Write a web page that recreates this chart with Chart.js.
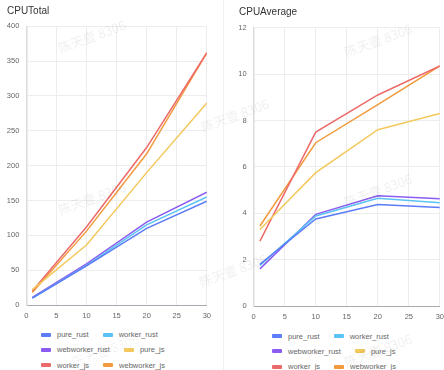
<!DOCTYPE html>
<html>
<head>
<meta charset="utf-8">
<script src="https://cdn.jsdelivr.net/npm/chart.js@4.4.1/dist/chart.umd.min.js"></script>
<style>
  html, body { margin: 0; padding: 0; background: #fff; }
  body { width: 444px; height: 370px; position: relative; overflow: hidden; font-family: "Liberation Sans", Arial, sans-serif; }
  .box { position: absolute; top: 0; }
  #leftBox { left: 0; width: 217px; height: 322px; }
  #rightBox { left: 222px; width: 228px; height: 323px; }
  .divider { position: absolute; left: 223px; top: 0; width: 1px; height: 370px; background: #f0f0f0; }
  .legend { position: absolute; display: flex; flex-wrap: wrap; width: 134px; column-gap: 14px; }
  #leftLegend { left: 41px; top: 327px; }
  #rightLegend { left: 272px; top: 328.5px; }
  .legend-item { display: flex; align-items: center; height: 15.3px; font-size: 7.5px; color: #666; white-space: nowrap; }
  .swatch { width: 10px; height: 4px; margin-right: 6px; border-radius: 1px; }
  .wm { position: absolute; font: 13px "Noto Sans CJK SC", sans-serif; color: rgba(0, 0, 0, 0.065); transform: translate(-50%, -50%) rotate(-20deg); white-space: nowrap; pointer-events: none; z-index: 5; }
</style>
</head>
<body>
<div class="box" id="leftBox"><canvas id="cpuTotal"></canvas></div>
<div class="divider"></div>
<div class="box" id="rightBox"><canvas id="cpuAverage"></canvas></div>
<div class="legend" id="leftLegend"></div>
<div class="legend" id="rightLegend"></div>
<script>
// thread counts on the x axis
const threads = [1, 10, 20, 30];
const xTicks = [0, 5, 10, 15, 20, 25, 30];

const seriesNames = ['pure_rust', 'worker_rust', 'webworker_rust', 'pure_js', 'worker_js', 'webworker_js'];
const seriesColors = ['#5b7cf6', '#5bc3f3', '#8b5cf1', '#f3c85c', '#ed6a6a', '#f29a3e'];

// CPUTotal
const totalPureRust = [10, 56, 110, 149];
const totalWorkerRust = [10, 57, 115, 155];
const totalWebworkerRust = [11, 59, 119, 162];
const totalPureJs = [22, 86, 190, 290];
const totalWorkerJs = [20, 112, 226, 362];
const totalWebworkerJs = [18, 106, 217, 362];
const totalTicks = [0, 50, 100, 150, 200, 250, 300, 350, 400];

// CPUAverage
const avgPureRust = [1.8, 3.75, 4.38, 4.25];
const avgWorkerRust = [1.75, 3.88, 4.65, 4.45];
const avgWebworkerRust = [1.6, 3.95, 4.75, 4.62];
const avgPureJs = [3.3, 5.75, 7.6, 8.3];
const avgWorkerJs = [2.8, 7.5, 9.1, 10.35];
const avgWebworkerJs = [3.45, 7.04, 8.68, 10.35];
const avgTicks = [0, 2, 4, 6, 8, 10, 12];

// watermark centres
const watermarks = [[92, 36], [378, 40], [235, 115], [92, 198], [378, 190], [233, 270], [105, 350], [378, 350]];

function makeDatasets(lists) {
  return lists.map((vals, i) => ({
    label: seriesNames[i],
    data: vals.map((v, j) => ({ x: threads[j], y: v })),
    borderColor: seriesColors[i],
    backgroundColor: seriesColors[i],
    borderWidth: 1.5,
    pointRadius: 0,
    tension: 0
  }));
}

// legend drawn as html so it can wrap into two columns like the original
const htmlLegend = {
  id: 'htmlLegend',
  afterUpdate(chart, args, opts) {
    const box = document.getElementById(opts.containerID);
    box.innerHTML = '';
    const items = chart.options.plugins.legend.labels.generateLabels(chart);
    items.forEach(item => {
      const el = document.createElement('div');
      el.className = 'legend-item';
      const sw = document.createElement('span');
      sw.className = 'swatch';
      sw.style.background = item.fillStyle;
      const txt = document.createElement('span');
      txt.textContent = item.text;
      el.appendChild(sw);
      el.appendChild(txt);
      box.appendChild(el);
    });
  }
};

function makeChart(canvasId, title, lists, yTicks, legendId, cfg) {
  return new Chart(document.getElementById(canvasId), {
    type: 'line',
    data: { datasets: makeDatasets(lists) },
    plugins: [htmlLegend],
    options: {
      responsive: true,
      maintainAspectRatio: false,
      animation: false,
      layout: { padding: { left: cfg.padLeft, right: 0, top: 0, bottom: 0 } },
      plugins: {
        legend: { display: false },
        htmlLegend: { containerID: legendId },
        tooltip: { enabled: false },
        title: {
          display: true,
          text: title,
          align: 'start',
          color: '#333',
          font: { family: 'Liberation Sans', size: 10, weight: 'normal', lineHeight: 1.2 },
          padding: { top: cfg.titleTop, bottom: cfg.titleBottom }
        }
      },
      scales: {
        x: {
          type: 'linear',
          min: xTicks[0],
          max: xTicks[xTicks.length - 1],
          afterBuildTicks: axis => { axis.ticks = xTicks.map(v => ({ value: v })); },
          afterFit: axis => { axis.height = 17; },
          grid: { color: '#ededed', drawTicks: false },
          border: { color: '#a9a9b2', width: 1 },
          ticks: { color: '#666', padding: 6, maxRotation: 0, font: { family: 'Liberation Sans', size: 7.5 } }
        },
        y: {
          min: yTicks[0],
          max: yTicks[yTicks.length - 1],
          afterBuildTicks: axis => { axis.ticks = yTicks.map(v => ({ value: v })); },
          afterFit: axis => { axis.width = cfg.yWidth; },
          grid: { color: '#ededed', drawTicks: false },
          border: { color: '#dcdcdc', width: 1.5 },
          ticks: { color: '#666', padding: 7, font: { family: 'Liberation Sans', size: 7.5 } }
        }
      }
    }
  });
}

makeChart('cpuTotal', 'CPUTotal',
  [totalPureRust, totalWorkerRust, totalWebworkerRust, totalPureJs, totalWorkerJs, totalWebworkerJs],
  totalTicks, 'leftLegend', { padLeft: 7, yWidth: 19.3, titleTop: 5.7, titleBottom: 8.6 });
makeChart('cpuAverage', 'CPUAverage',
  [avgPureRust, avgWorkerRust, avgWebworkerRust, avgPureJs, avgWorkerJs, avgWebworkerJs],
  avgTicks, 'rightLegend', { padLeft: 17, yWidth: 14.7, titleTop: 6.3, titleBottom: 9.4 });

watermarks.forEach(([x, y]) => {
  const d = document.createElement('div');
  d.className = 'wm';
  d.textContent = '陈天壹 8306';
  d.style.left = x + 'px';
  d.style.top = y + 'px';
  document.body.appendChild(d);
});
</script>
</body>
</html>
